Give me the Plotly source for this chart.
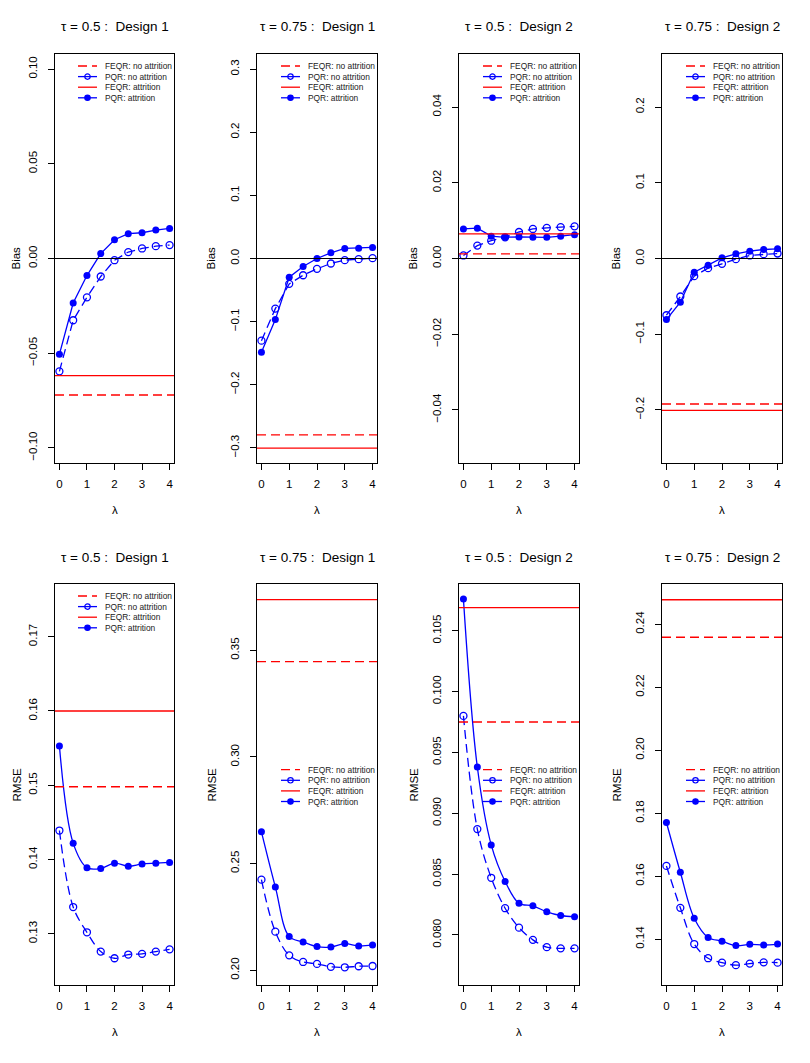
import plotly.graph_objects as go

lam = [0, 0.5, 1, 1.5, 2, 2.5, 3, 3.5, 4]

titles = ["τ = 0.5 :  Design 1", "τ = 0.75 :  Design 1",
          "τ = 0.5 :  Design 2", "τ = 0.75 :  Design 2"]

# Bias, PQR (penalized QR) by lambda
bias_pqr_att = [
    [-0.0506, -0.0235, -0.0090, 0.0026, 0.0099, 0.0131, 0.0136, 0.0150, 0.0159],
    [-0.1487, -0.0968, -0.0296, -0.0127, 0.0000, 0.0090, 0.0159, 0.0164, 0.0175],
    [0.0078, 0.0080, 0.0059, 0.0056, 0.0057, 0.0056, 0.0056, 0.0059, 0.0063],
    [-0.0806, -0.0577, -0.0181, -0.0088, 0.0009, 0.0062, 0.0097, 0.0119, 0.0128],
]
bias_pqr_noatt = [
    [-0.0596, -0.0326, -0.0205, -0.0095, -0.0009, 0.0034, 0.0053, 0.0065, 0.0071],
    [-0.1302, -0.0794, -0.0402, -0.0265, -0.0164, -0.0079, -0.0026, -0.0011, 0.0005],
    [0.0008, 0.0034, 0.0047, 0.0056, 0.0070, 0.0078, 0.0081, 0.0083, 0.0085],
    [-0.0749, -0.0502, -0.0233, -0.0128, -0.0070, -0.0009, 0.0040, 0.0057, 0.0066],
]
bias_feqr_att = [-0.0619, -0.3005, 0.0065, -0.2004]
bias_feqr_noatt = [-0.0721, -0.2794, 0.0012, -0.1921]

# RMSE, PQR by lambda
rmse_pqr_att = [
    [0.1553, 0.1422, 0.1389, 0.1388, 0.1395, 0.1391, 0.1394, 0.1395, 0.1396],
    [0.2649, 0.2391, 0.2158, 0.2133, 0.2111, 0.2109, 0.2125, 0.2114, 0.2119],
    [0.1076, 0.0938, 0.0874, 0.0844, 0.0826, 0.0824, 0.0819, 0.0816, 0.0815],
    [0.1771, 0.1613, 0.1467, 0.1406, 0.1394, 0.1380, 0.1384, 0.1382, 0.1385],
]
rmse_pqr_noatt = [
    [0.1439, 0.1336, 0.1302, 0.1276, 0.1267, 0.1272, 0.1273, 0.1276, 0.1279],
    [0.2425, 0.2181, 0.2070, 0.2039, 0.2030, 0.2016, 0.2014, 0.2019, 0.2020],
    [0.0980, 0.0887, 0.0847, 0.0822, 0.0806, 0.0796, 0.0790, 0.0789, 0.0789],
    [0.1633, 0.1500, 0.1385, 0.1340, 0.1326, 0.1318, 0.1323, 0.1327, 0.1326],
]
rmse_feqr_att = [0.1600, 0.3738, 0.1069, 0.2478]
rmse_feqr_noatt = [0.1498, 0.3447, 0.0975, 0.2359]

bias_ticks = [
    [-0.10, -0.05, 0.00, 0.05, 0.10],
    [-0.3, -0.2, -0.1, 0.0, 0.1, 0.2, 0.3],
    [-0.04, -0.02, 0.00, 0.02, 0.04],
    [-0.2, -0.1, 0.0, 0.1, 0.2],
]
rmse_ticks = [
    [0.13, 0.14, 0.15, 0.16, 0.17],
    [0.20, 0.25, 0.30, 0.35],
    [0.080, 0.085, 0.090, 0.095, 0.100, 0.105],
    [0.14, 0.16, 0.18, 0.20, 0.22, 0.24],
]
tick_fmt = ["{:.2f}", "{:.1f}", "{:.2f}", "{:.1f}",
            "{:.2f}", "{:.2f}", "{:.3f}", "{:.2f}"]
y_ranges = [[-0.108, 0.108], [-0.324, 0.324], [-0.054, 0.054], [-0.27, 0.27],
            [0.1231, 0.1771], [0.1931, 0.3811], [0.07589, 0.10884], [0.1255, 0.2528]]

leg_labels = ["FEQR: no attrition", "PQR: no attrition", "FEQR: attrition", "PQR: attrition"]

# page body has an 8px margin, so the figure is a bit smaller and shifted
OFF = 8
W, H = 810 - 2 * OFF, 1063 - 2 * OFF
cols = [(55, 174), (257, 377), (459, 579), (662, 782)]
rows = [(54, 463), (584, 985)]
FONT = "Liberation Sans, Arial, sans-serif"
DASH = "9px,5px"

fig = go.Figure()
shapes = []
annotations = []
layout = {}

for r in range(2):
    for c in range(4):
        i = r * 4 + c
        n = "" if i == 0 else str(i + 1)
        xa, ya = "x" + n, "y" + n
        x0, x1 = cols[c][0] - OFF, cols[c][1] - OFF
        y0, y1 = rows[r][0] - OFF, rows[r][1] - OFF
        pw, ph = x1 - x0, y1 - y0

        if r == 0:
            att, noatt = bias_pqr_att[c], bias_pqr_noatt[c]
            f_att, f_noatt = bias_feqr_att[c], bias_feqr_noatt[c]
            ticks, ylab, shape = bias_ticks[c], "Bias", "linear"
        else:
            att, noatt = rmse_pqr_att[c], rmse_pqr_noatt[c]
            f_att, f_noatt = rmse_feqr_att[c], rmse_feqr_noatt[c]
            ticks, ylab, shape = rmse_ticks[c], "RMSE", "spline"

        fig.add_trace(go.Scatter(
            x=lam, y=noatt, xaxis=xa, yaxis=ya, mode="lines+markers",
            line=dict(color="blue", width=1.3, dash=DASH, shape=shape),
            marker=dict(symbol="circle-open", size=7, color="blue", line=dict(width=1.3)),
            showlegend=False))
        fig.add_trace(go.Scatter(
            x=lam, y=att, xaxis=xa, yaxis=ya, mode="lines+markers",
            line=dict(color="blue", width=1.3, shape=shape),
            marker=dict(symbol="circle", size=7, color="blue"),
            showlegend=False))

        xd, yd = xa + " domain", ya + " domain"
        shapes.append(dict(type="line", xref=xd, yref=ya, x0=0, x1=1, y0=f_noatt, y1=f_noatt,
                           line=dict(color="red", width=1.3, dash=DASH)))
        shapes.append(dict(type="line", xref=xd, yref=ya, x0=0, x1=1, y0=f_att, y1=f_att,
                           line=dict(color="red", width=1.3)))
        if r == 0:
            shapes.append(dict(type="line", xref=xd, yref=ya, x0=0, x1=1, y0=0, y1=0,
                               line=dict(color="black", width=1)))

        # legend drawn by hand (R style, compact)
        if r == 0 or c == 0:
            offs = [12, 22.6, 33.2, 43.8]
            ypos = [1 - o / ph for o in offs]
        else:
            offs = [-14.8, -4.2, 6.4, 17.0]
            ypos = [0.5 - o / ph for o in offs]
        lx0, lx1, mx, tx = 1 - 96 / pw, 1 - 77 / pw, 1 - 86.5 / pw, 1 - 71 / pw
        for k, lab in enumerate(leg_labels):
            col = "red" if k in (0, 2) else "blue"
            shapes.append(dict(type="line", xref=xd, yref=yd, x0=lx0, x1=lx1,
                               y0=ypos[k], y1=ypos[k],
                               line=dict(color=col, width=1.3,
                                         dash=DASH if k == 0 else "solid")))
            if k in (1, 3):
                shapes.append(dict(type="circle", xref=xd, yref=yd,
                                   xsizemode="pixel", xanchor=mx, x0=-2.7, x1=2.7,
                                   ysizemode="pixel", yanchor=ypos[k], y0=-2.7, y1=2.7,
                                   fillcolor="blue" if k == 3 else "rgba(0,0,0,0)",
                                   line=dict(color="blue", width=1.2)))
            annotations.append(dict(text=lab, xref=xd, yref=yd, x=tx, y=ypos[k],
                                    xanchor="left", yanchor="middle", showarrow=False,
                                    font=dict(size=8.4, color="#222222", family=FONT)))

        annotations.append(dict(text=titles[c], xref=xd, yref=yd, x=0.5, y=1, yshift=27,
                                xanchor="center", yanchor="middle", showarrow=False,
                                font=dict(size=13.5, color="black", family=FONT)))
        # first column label sits close to the page edge, nudge it in
        annotations.append(dict(text=ylab, xref=xd, yref=yd, x=0, y=0.5,
                                xshift=-39 if c == 0 else -46,
                                xanchor="center", yanchor="middle", textangle=-90,
                                showarrow=False, font=dict(size=11.5, color="black", family=FONT)))
        annotations.append(dict(text="λ", xref=xd, yref=yd, x=0.5, y=0, yshift=-47,
                                xanchor="center", yanchor="middle", showarrow=False,
                                font=dict(size=11.5, color="black", family=FONT)))

        axis_common = dict(showline=True, mirror=True, linecolor="black", linewidth=1,
                           ticks="outside", ticklen=6, tickwidth=1, tickcolor="black",
                           showgrid=False, zeroline=False,
                           tickfont=dict(size=11.5, color="black", family=FONT))
        layout["xaxis" + n] = dict(axis_common, domain=[x0 / W, x1 / W], anchor=ya,
                                   range=[-0.16, 4.16], tickvals=[0, 1, 2, 3, 4],
                                   ticklabelstandoff=4)
        layout["yaxis" + n] = dict(axis_common, domain=[1 - y1 / H, 1 - y0 / H], anchor=xa,
                                   range=y_ranges[i], tickvals=ticks,
                                   ticktext=[tick_fmt[i].format(t).replace("-", "−") for t in ticks],
                                   tickangle=-90, ticklabelstandoff=6)

fig.update_layout(width=W, height=H, margin=dict(l=0, r=0, t=0, b=0),
                  paper_bgcolor="white", plot_bgcolor="white",
                  shapes=shapes, annotations=annotations, **layout)
fig.write_html("out.html")
